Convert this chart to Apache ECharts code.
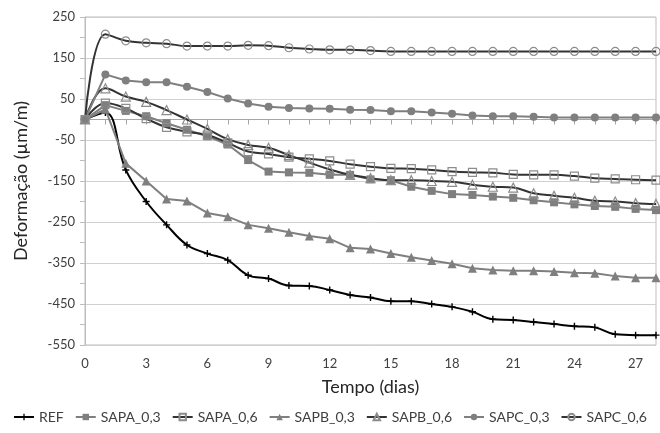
<!DOCTYPE html>
<html><head><meta charset="utf-8">
<script src="https://cdn.jsdelivr.net/npm/echarts@6/dist/echarts.min.js"></script>
<style>html,body{margin:0;padding:0;background:#fff}#c{width:660px;height:433px}</style>
</head><body><div id="c"></div>
<script>
const days = [0,1,2,3,4,5,6,7,8,9,10,11,12,13,14,15,16,17,18,19,20,21,22,23,24,25,26,27,28];
const REF = [0,17,-123,-200,-257,-306,-327,-343,-380,-388,-405,-406,-416,-428,-434,-443,-443,-450,-457,-469,-487,-489,-494,-499,-504,-507,-524,-526,-526];
const SAPA_03 = [0,35,21,8,-9,-25,-41,-61,-99,-127,-129,-130,-135,-135,-146,-148,-164,-174,-182,-184,-188,-191,-197,-202,-207,-211,-213,-218,-221];
const SAPA_06 = [0,40,27,2,-19,-30,-38,-57,-78,-84,-92,-96,-101,-109,-115,-119,-120,-123,-127,-129,-130,-134,-135,-135,-138,-143,-145,-147,-148];
const SAPB_03 = [0,25,-107,-150,-194,-199,-228,-237,-257,-265,-275,-284,-291,-313,-316,-327,-336,-344,-352,-363,-367,-369,-369,-371,-374,-375,-382,-386,-386];
const SAPB_06 = [0,76,56,43,23,0,-23,-48,-62,-69,-87,-105,-122,-135,-143,-148,-148,-150,-152,-159,-164,-166,-180,-186,-191,-198,-200,-204,-206];
const SAPC_03 = [0,110,95,91,91,80,67,51,39,31,28,27,26,24,23,20,20,17,14,10,8,8,7,5,5,5,5,5,5];
const SAPC_06 = [0,208,192,187,185,179,179,179,181,180,175,172,170,170,168,166,166,166,166,166,166,166,166,166,166,166,166,166,166];
const seriesNames = ['REF','SAPA_0,3','SAPA_0,6','SAPB_0,3','SAPB_0,6','SAPC_0,3','SAPC_0,6'];
const xLabelStep = 3;
const yLabelStep = 100;

const pair = arr => days.map((d,i)=>[d,arr[i]]);
const FONT = 'Lato';
const gray = '#7f7f7f';
const dark = '#333333';
const openBorder = '#8c8c8c';

function filled(name, arr, sym){
  return {name, type:'line', data:pair(arr), symbol:sym, symbolSize: sym==='triangle'?9:8, smooth:false,
    itemStyle:{color:gray}, lineStyle:{color:gray,width:2}, xAxisIndex:0};
}
function open(name, arr, sym){
  return {name, type:'line', data:pair(arr), symbol:sym, symbolSize: sym==='triangle'?9:8, smooth:0.4,
    itemStyle:{color:'rgba(255,255,255,0)', borderColor:openBorder, borderWidth:1.2},
    lineStyle:{color:dark,width:2}, xAxisIndex:0};
}

const chart = echarts.init(document.getElementById('c'));
chart.setOption({
  animation:false,
  grid:{left:85,right:4,top:17,bottom:88,show:true,borderColor:'#bdbdbd',borderWidth:1},
  legend:{bottom:4,left:'center',itemGap:11,itemWidth:20,itemHeight:8,
    textStyle:{fontFamily:FONT,fontSize:14,color:'#404040'},data:seriesNames},
  xAxis:[
    {type:'value',min:0,max:28,interval:1,position:'bottom',
     axisLine:{show:false,onZero:false},axisTick:{show:false},splitLine:{show:false},
     axisLabel:{fontFamily:FONT,fontSize:13,color:'#404040',margin:12,
       formatter:v=>(v%xLabelStep===0 && v<28)?String(v):''},
     name:'Tempo (dias)',nameLocation:'middle',nameGap:33,
     nameTextStyle:{fontFamily:FONT,fontSize:18,color:'#262626'}},
    {type:'value',min:0,max:28,interval:1,position:'top',
     axisLine:{show:true,onZero:true,lineStyle:{color:'#a6a6a6',width:1}},
     axisTick:{show:true,inside:true,length:5,lineStyle:{color:'#a6a6a6'}},
     axisLabel:{show:false},splitLine:{show:false}}
  ],
  yAxis:{type:'value',min:-550,max:250,interval:50,
    axisLine:{show:true,lineStyle:{color:'#bdbdbd'}},
    axisTick:{show:true,length:5,lineStyle:{color:'#bdbdbd'}},
    splitLine:{show:true,lineStyle:{color:['#d0d0d0','rgba(0,0,0,0)'],width:1}},
    axisLabel:{fontFamily:FONT,fontSize:13,color:'#404040',margin:10,
      formatter:v=>((v+550)%yLabelStep===0)?String(v):''},
    name:'Deformação (µm/m)',nameLocation:'middle',nameGap:55,nameRotate:90,
    nameTextStyle:{fontFamily:FONT,fontSize:18,color:'#262626'}},
  series:[
    {name:'REF',type:'line',data:pair(REF),smooth:0.4,symbol:'path://M4,0H6V4H10V6H6V10H4V6H0V4H4Z',symbolSize:7,
     itemStyle:{color:'#000'},lineStyle:{color:'#000',width:2},z:3},
    filled('SAPA_0,3',SAPA_03,'rect'),
    open('SAPA_0,6',SAPA_06,'rect'),
    filled('SAPB_0,3',SAPB_03,'triangle'),
    open('SAPB_0,6',SAPB_06,'triangle'),
    filled('SAPC_0,3',SAPC_03,'circle'),
    open('SAPC_0,6',SAPC_06,'circle')
  ]
});
</script></body></html>
